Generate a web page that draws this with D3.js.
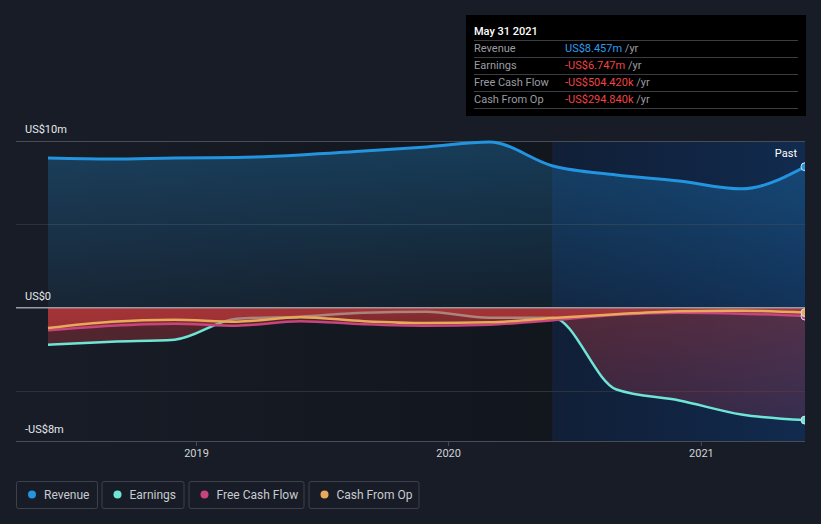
<!DOCTYPE html>
<html><head><meta charset="utf-8">
<script src="https://cdn.jsdelivr.net/npm/d3@7"></script>
<style>
html,body{margin:0;padding:0;background:#171c26;}
svg{display:block;font-family:Roboto,"Open Sans",sans-serif;}
</style></head>
<body><svg id="c" width="821" height="524"></svg>
<script>
const dates = ["2018-05-31","2018-08-31","2018-11-30","2019-02-28","2019-05-31","2019-08-31","2019-11-30","2020-02-29","2020-05-31","2020-08-31","2020-11-30","2021-02-28","2021-05-31"];
const revenue = [8.98, 8.92, 8.98, 9.01, 9.16, 9.40, 9.64, 9.94, 8.50, 7.96, 7.60, 7.13, 8.457];
const earnings = [-2.22, -2.04, -1.92, -0.66, -0.54, -0.30, -0.24, -0.60, -0.60, -4.91, -5.57, -6.41, -6.747];
const fcf = [-1.35, -1.08, -0.96, -1.08, -0.81, -0.99, -1.08, -1.02, -0.76, -0.42, -0.30, -0.36, -0.504];
const cfo = [-1.22, -0.84, -0.72, -0.84, -0.57, -0.81, -0.92, -0.88, -0.62, -0.39, -0.21, -0.18, -0.295];
const yTicks = [10, 0, -8];
const yTickLabels = ["US$10m", "US$0", "-US$8m"];
const xTicks = ["2019-01-01", "2020-01-01", "2021-01-01"];
const legendNames = ["Revenue", "Earnings", "Free Cash Flow", "Cash From Op"];
const colors = {rev:"#2394df", earn:"#6ee6d6", fcf:"#c8447d", cfo:"#e8a95a"};
const tipTitle = "May 31 2021";
const tipRows = [["Revenue","US$8.457m"],["Earnings","-US$6.747m"],["Free Cash Flow","-US$504.420k"],["Cash From Op","-US$294.840k"]];
const highlightStart = "2020-05-31";

const parse = d3.timeParse("%Y-%m-%d");
const D = dates.map(parse);
const svg = d3.select("#c");
const x = d3.scaleTime().domain([D[0], D[D.length-1]]).range([48, 805]);
const y = d3.scaleLinear().domain([-8, 10]).range([441, 141]);
const L = 16, R = 805, T = 141, B = 441;

const defs = svg.append("defs");
function lg(id, x1,y1,x2,y2, stops, user){
  const g = defs.append("linearGradient").attr("id", id).attr("x1",x1).attr("y1",y1).attr("x2",x2).attr("y2",y2);
  if(user) g.attr("gradientUnits","userSpaceOnUse");
  stops.forEach(s=>g.append("stop").attr("offset",s[0]).attr("stop-color",s[1]).attr("stop-opacity",s[2]));
}
lg("dark", 0,0,1,0, [[0,"#000",0.0],[1,"#000",0.35]]);
lg("hl", 0,0,1,0, [[0,"#0e3a80",0.26],[1,"#1450a0",0.40]]);
lg("revA", 0,T,0,y(0), [[0,"#2394df",0.30],[1,"#2394df",0.08]], true);
lg("earnA", 0,y(0),0,B, [[0,"#d83c3c",0.34],[1,"#d83c5a",0.16]], true);
lg("redA", 0,y(0),0,y(-1.5), [[0,"#d83c3c",0.37],[1,"#d83c3c",0.3]], true);
defs.append("clipPath").attr("id","clip").append("rect").attr("x",L).attr("y",0).attr("width",R-L).attr("height",524);

// backgrounds
const hx = x(parse(highlightStart));
svg.append("rect").attr("x",48).attr("y",T).attr("width",R-48).attr("height",B-T).attr("fill","url(#dark)");
svg.append("rect").attr("x",hx).attr("y",T).attr("width",R-hx).attr("height",B-T).attr("fill","url(#hl)");
svg.append("line").attr("x1",hx).attr("x2",hx).attr("y1",T).attr("y2",B).attr("stroke","#2a3a58").attr("stroke-width",1).attr("opacity",0.3);

// gridlines
[5,-5].forEach(v=>svg.append("line").attr("x1",L).attr("x2",R).attr("y1",Math.round(y(v))+0.5).attr("y2",Math.round(y(v))+0.5).attr("stroke","#2c323d").attr("stroke-width",1));
svg.append("line").attr("x1",L).attr("x2",R).attr("y1",T+0.5).attr("y2",T+0.5).attr("stroke","#474c56");
svg.append("line").attr("x1",L).attr("x2",R).attr("y1",B+0.5).attr("y2",B+0.5).attr("stroke","#474c56");

const g = svg.append("g").attr("clip-path","url(#clip)");
const area = vals => d3.area().x((d,i)=>x(D[i])).y0(y(0)).y1(d=>y(d)).curve(d3.curveMonotoneX)(vals);
const line = vals => d3.line().x((d,i)=>x(D[i])).y(d=>y(d)).curve(d3.curveMonotoneX)(vals);

g.append("path").attr("d",area(revenue)).attr("fill","url(#revA)");
svg.append("line").attr("x1",L).attr("x2",R).attr("y1",y(0)).attr("y2",y(0)).attr("stroke","#9a9ca2").attr("stroke-width",1.5);
g.append("path").attr("d",area(earnings)).attr("fill","url(#earnA)");
g.append("path").attr("d",line(earnings)).attr("fill","none").attr("stroke",colors.earn).attr("stroke-width",2.5);
g.append("path").attr("d",area(fcf)).attr("fill","url(#redA)");
g.append("path").attr("d",area(cfo)).attr("fill","url(#redA)");
g.append("path").attr("d",line(revenue)).attr("fill","none").attr("stroke",colors.rev).attr("stroke-width",3);
g.append("path").attr("d",line(fcf)).attr("fill","none").attr("stroke",colors.fcf).attr("stroke-width",2.5);
g.append("path").attr("d",line(cfo)).attr("fill","none").attr("stroke",colors.cfo).attr("stroke-width",2.5);

const last = D.length-1;
[[revenue,colors.rev],[earnings,colors.earn],[fcf,colors.fcf],[cfo,colors.cfo]].forEach(([v,c])=>{
  g.append("circle").attr("cx",x(D[last])).attr("cy",y(v[last])).attr("r",4).attr("fill",c).attr("stroke","#d8e4f0").attr("stroke-width",1);
});

// y labels
yTicks.forEach((v,i)=>{
  const yy = v===-8 ? 433 : y(v)-8;
  svg.append("text").attr("x",25).attr("y",yy).attr("fill","#e6e8ec").attr("font-size",11).text(yTickLabels[i]);
});
// x axis
xTicks.forEach(t=>{
  const xx = x(parse(t));
  svg.append("line").attr("x1",xx).attr("x2",xx).attr("y1",B).attr("y2",B+5).attr("stroke","#474c56");
  svg.append("text").attr("x",xx).attr("y",457).attr("text-anchor","middle").attr("fill","#d0d3d8").attr("font-size",11).text(t.slice(0,4));
});
svg.append("text").attr("x",797).attr("y",157).attr("text-anchor","end").attr("fill","#ffffff").attr("font-size",11).text("Past");

// tooltip
svg.append("rect").attr("x",466).attr("y",15).attr("width",340).attr("height",101).attr("fill","#000");
svg.append("text").attr("x",474).attr("y",35).attr("fill","#fff").attr("font-size",11).attr("font-weight",500).text(tipTitle);
[40,57,74,91,108].forEach(yy=>svg.append("line").attr("x1",474).attr("x2",798).attr("y1",yy+0.5).attr("y2",yy+0.5).attr("stroke","#3a3d44"));
tipRows.forEach((r,i)=>{
  const yy = 52 + i*17;
  svg.append("text").attr("x",474).attr("y",yy).attr("fill","#9a9ca2").attr("font-size",11).text(r[0]);
  const t = svg.append("text").attr("x",565).attr("y",yy).attr("font-size",11);
  t.append("tspan").attr("fill", i===0 ? "#2e9cf0" : "#f04444").text(r[1]);
  t.append("tspan").attr("fill","#9a9ca2").text(" /yr");
});

// legend
const lx = [16.5, 102, 189, 309], lw = [81, 82, 115, 110];
const lc = [colors.rev, colors.earn, colors.fcf, colors.cfo];
legendNames.forEach((n,i)=>{
  svg.append("rect").attr("x",lx[i]).attr("y",481.5).attr("width",lw[i]).attr("height",27).attr("rx",2).attr("fill","none").attr("stroke","#3c414b");
  svg.append("circle").attr("cx",lx[i]+15.5).attr("cy",494.5).attr("r",4).attr("fill",lc[i]);
  svg.append("text").attr("x",lx[i]+27.5).attr("y",498.5).attr("fill","#c8cbd0").attr("font-size",12).text(n);
});
</script></body></html>
